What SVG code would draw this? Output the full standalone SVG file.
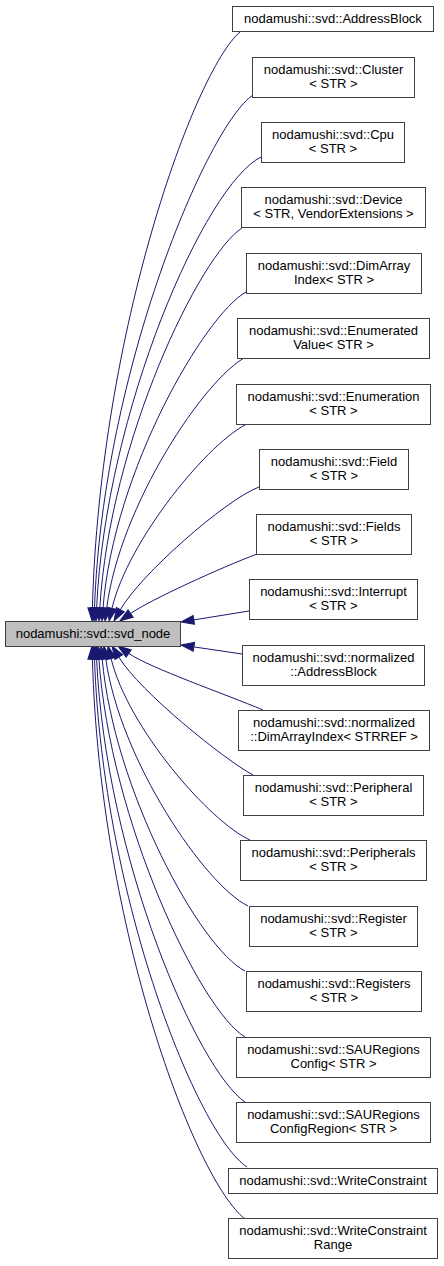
<svg xmlns="http://www.w3.org/2000/svg" width="444" height="1266" viewBox="0 0 444 1266">
<style>
.n rect{fill:#ffffff;stroke:#404040;stroke-width:1}
.main rect{fill:#bfbfbf;stroke:#404040;stroke-width:1}
text{font-family:"Liberation Sans",Arial,sans-serif;font-size:13px;fill:#000000;text-anchor:middle}
.e path{fill:none;stroke:#191970;stroke-width:1;marker-end:url(#ah)}
</style>
<defs>
<marker id="ah" markerUnits="userSpaceOnUse" markerWidth="13" markerHeight="9" viewBox="0 0 13 9" refX="0" refY="4.5" orient="auto" overflow="visible">
<path d="M0,0 L13,4.5 L0,9 z" fill="#191970" stroke="#191970" stroke-width="1"/>
</marker>
</defs>
<rect x="0" y="0" width="444" height="1266" fill="#ffffff"/>
<g id="edges" class="e">
<path d="M240,32 C195,70 100,330 92.4,608"/>
<path d="M253,95 C208,125 103,370 94.5,608"/>
<path d="M261,157 C205,185 106,410 96.6,608"/>
<path d="M242,228 C200,255 110,440 99.8,608"/>
<path d="M246,292 C205,315 114,470 103,608"/>
<path d="M246,357 C205,378 120,505 106.7,608.1"/>
<path d="M249,423 C210,440 128,540 112,608.3"/>
<path d="M259,487 C225,500 140,575 120.4,609.7"/>
<path d="M257,554 C220,568 150,600 130.6,613.5"/>
<path d="M249,611 L193.8,619.9"/>
<path d="M242,654 L193.9,646.9"/>
<path d="M263,710 C225,694 150,668 128.7,653.4"/>
<path d="M253,775 C225,760 140,692 118.8,657.1"/>
<path d="M250,840 C210,822 128,728 111.1,658.6"/>
<path d="M248,906 C205,885 120,760 105.8,658.9"/>
<path d="M245,971 C200,948 114,790 102.2,659"/>
<path d="M245,1037 C200,1010 110,820 98.9,659"/>
<path d="M245,1102 C198,1070 106,860 96.6,659"/>
<path d="M247,1167 C198,1135 103,900 94.5,659"/>
<path d="M245,1219 C195,1180 100,930 92.4,659"/>
</g>
<g id="svd_node" class="main"><rect x="5.5" y="621.5" width="175" height="25"/><text x="93" y="638">nodamushi::svd::svd_node</text></g>
<g id="AddressBlock" class="n"><rect x="232.5" y="6.5" width="201" height="25"/><text x="333" y="23">nodamushi::svd::AddressBlock</text></g>
<g id="Cluster" class="n"><rect x="252.5" y="57.5" width="162" height="40"/><text x="333.5" y="74">nodamushi::svd::Cluster</text><text x="333.5" y="88">&lt; STR &gt;</text></g>
<g id="Cpu" class="n"><rect x="261.5" y="122.5" width="143" height="40"/><text x="333" y="139">nodamushi::svd::Cpu</text><text x="333" y="153">&lt; STR &gt;</text></g>
<g id="Device" class="n"><rect x="241.5" y="187.5" width="184" height="40"/><text x="333.5" y="204">nodamushi::svd::Device</text><text x="333.5" y="218">&lt; STR, VendorExtensions &gt;</text></g>
<g id="DimArrayIndex" class="n"><rect x="246.5" y="253.5" width="175" height="40"/><text x="334" y="270">nodamushi::svd::DimArray</text><text x="334" y="284">Index&lt; STR &gt;</text></g>
<g id="EnumeratedValue" class="n"><rect x="237.5" y="318.5" width="192" height="40"/><text x="333.5" y="335">nodamushi::svd::Enumerated</text><text x="333.5" y="349">Value&lt; STR &gt;</text></g>
<g id="Enumeration" class="n"><rect x="236.5" y="384.5" width="194" height="40"/><text x="333.5" y="401">nodamushi::svd::Enumeration</text><text x="333.5" y="415">&lt; STR &gt;</text></g>
<g id="Field" class="n"><rect x="259.5" y="449.5" width="149" height="40"/><text x="334" y="466">nodamushi::svd::Field</text><text x="334" y="480">&lt; STR &gt;</text></g>
<g id="Fields" class="n"><rect x="256.5" y="514.5" width="155" height="40"/><text x="334" y="531">nodamushi::svd::Fields</text><text x="334" y="545">&lt; STR &gt;</text></g>
<g id="Interrupt" class="n"><rect x="249.5" y="579.5" width="168" height="40"/><text x="333.5" y="596">nodamushi::svd::Interrupt</text><text x="333.5" y="610">&lt; STR &gt;</text></g>
<g id="normalized_AddressBlock" class="n"><rect x="242.5" y="645.5" width="182" height="40"/><text x="333.5" y="662">nodamushi::svd::normalized</text><text x="333.5" y="676">::AddressBlock</text></g>
<g id="normalized_DimArrayIndex" class="n"><rect x="238.5" y="710.5" width="191" height="40"/><text x="334" y="727">nodamushi::svd::normalized</text><text x="334" y="741">::DimArrayIndex&lt; STRREF &gt;</text></g>
<g id="Peripheral" class="n"><rect x="243.5" y="775.5" width="180" height="40"/><text x="333.5" y="792">nodamushi::svd::Peripheral</text><text x="333.5" y="806">&lt; STR &gt;</text></g>
<g id="Peripherals" class="n"><rect x="240.5" y="840.5" width="186" height="40"/><text x="333.5" y="857">nodamushi::svd::Peripherals</text><text x="333.5" y="871">&lt; STR &gt;</text></g>
<g id="Register" class="n"><rect x="249.5" y="906.5" width="168" height="40"/><text x="333.5" y="923">nodamushi::svd::Register</text><text x="333.5" y="937">&lt; STR &gt;</text></g>
<g id="Registers" class="n"><rect x="246.5" y="971.5" width="175" height="40"/><text x="334" y="988">nodamushi::svd::Registers</text><text x="334" y="1002">&lt; STR &gt;</text></g>
<g id="SAURegionsConfig" class="n"><rect x="236.5" y="1037.5" width="194" height="40"/><text x="333.5" y="1054">nodamushi::svd::SAURegions</text><text x="333.5" y="1068">Config&lt; STR &gt;</text></g>
<g id="SAURegionsConfigRegion" class="n"><rect x="236.5" y="1102.5" width="194" height="40"/><text x="333.5" y="1119">nodamushi::svd::SAURegions</text><text x="333.5" y="1133">ConfigRegion&lt; STR &gt;</text></g>
<g id="WriteConstraint" class="n"><rect x="228.5" y="1168.5" width="209" height="25"/><text x="333" y="1185">nodamushi::svd::WriteConstraint</text></g>
<g id="WriteConstraintRange" class="n"><rect x="228.5" y="1218.5" width="209" height="40"/><text x="333" y="1235">nodamushi::svd::WriteConstraint</text><text x="333" y="1249">Range</text></g>
</svg>
